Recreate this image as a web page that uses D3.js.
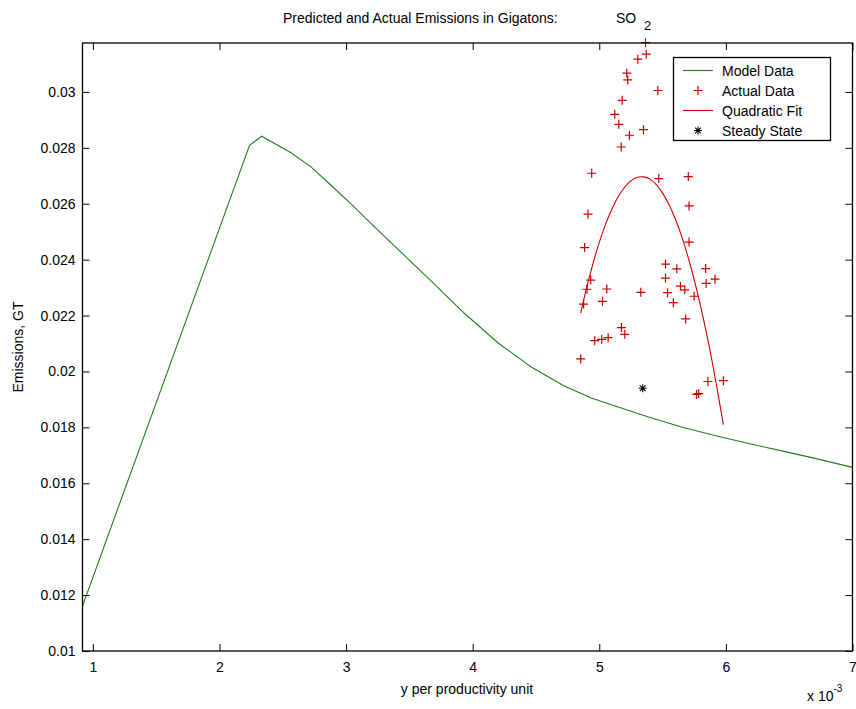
<!DOCTYPE html>
<html><head><meta charset="utf-8">
<script src="https://cdn.jsdelivr.net/npm/d3@7"></script>
<style>body{margin:0;background:#fff}svg{display:block;font-family:"Liberation Sans",Arial,sans-serif}</style>
</head><body><div id="chart"></div>
<script>
// Model data (x in units of 1e-3, emissions GT)
const modelX = [0.918, 2.2375, 2.3326, 2.562, 2.720, 2.879, 3.061, 3.235, 3.433, 3.671, 3.932, 4.201, 4.462, 4.723, 4.937, 5.119, 5.388, 5.649, 5.911, 6.180, 6.441, 6.703, 7.0];
const modelY = [0.01161, 0.02809, 0.028415, 0.02783, 0.02733, 0.02667, 0.02590, 0.02513, 0.02427, 0.02324, 0.02209, 0.02102, 0.02016, 0.01948, 0.01905, 0.01877, 0.01837, 0.01801, 0.01771, 0.01742, 0.01716, 0.01689, 0.01657];
// Actual data
const actualX = [5.365, 5.371, 5.304, 5.217, 5.225, 5.462, 5.181, 5.122, 5.154, 5.238, 5.349, 5.173, 4.940, 5.470, 5.703, 5.709, 4.911, 4.884, 5.709, 5.523, 5.612, 5.840, 4.932, 5.523, 5.844, 5.914, 4.903, 5.059, 5.328, 5.641, 5.675, 5.539, 5.749, 4.876, 5.025, 5.585, 5.682, 5.175, 5.201, 4.964, 5.019, 5.070, 4.853, 5.858, 5.980, 5.769, 5.785];
const actualY = [0.03176, 0.03135, 0.03117, 0.03067, 0.03043, 0.03005, 0.02970, 0.02920, 0.02884, 0.02845, 0.02865, 0.02803, 0.02709, 0.02690, 0.02697, 0.02592, 0.02563, 0.02443, 0.02463, 0.02384, 0.02367, 0.02368, 0.02327, 0.02334, 0.02315, 0.02330, 0.02294, 0.02295, 0.02283, 0.02305, 0.02292, 0.02282, 0.02269, 0.02241, 0.02251, 0.02246, 0.02188, 0.02157, 0.02133, 0.02110, 0.02115, 0.02121, 0.02045, 0.01964, 0.01967, 0.01918, 0.01921];
// Quadratic fit
const fitX = [4.853, 4.90, 4.95, 5.00, 5.05, 5.10, 5.15, 5.20, 5.25, 5.30, 5.35, 5.40, 5.45, 5.50, 5.55, 5.60, 5.65, 5.70, 5.75, 5.80, 5.85, 5.90, 5.98];
const fitY = [0.02209, 0.02300, 0.02386, 0.02462, 0.02527, 0.02581, 0.02626, 0.02659, 0.02682, 0.02695, 0.02696, 0.02688, 0.02668, 0.02638, 0.02597, 0.02546, 0.02484, 0.02411, 0.02328, 0.02234, 0.02130, 0.02015, 0.01810];
// Steady state
const steadyX = [5.343];
const steadyY = [0.01940];
// Ticks
const xTicks = [1, 2, 3, 4, 5, 6, 7];
const yTicks = [0.01, 0.012, 0.014, 0.016, 0.018, 0.02, 0.022, 0.024, 0.026, 0.028, 0.03];
const yTickLabels = ["0.01", "0.012", "0.014", "0.016", "0.018", "0.02", "0.022", "0.024", "0.026", "0.028", "0.03"];
const legendLabels = ["Model Data", "Actual Data", "Quadratic Fit", "Steady State"];

const W = 856, H = 709;
const L = 82.5, R = 852.5, T = 43, B = 651;
const green = "#1f7f1f", red = "#cc0000";

const svg = d3.select("#chart").append("svg").attr("width", W).attr("height", H);
const x = d3.scaleLinear().domain([0.918, 7]).range([L, R]);
const y = d3.scaleLinear().domain([0.01, 0.03175]).range([B, T]);

svg.append("clipPath").attr("id", "clip").append("rect").attr("x", L).attr("y", T - 6).attr("width", R - L).attr("height", B - T + 6);
const plot = svg.append("g").attr("clip-path", "url(#clip)");

const line = d3.line().x(d => x(d[0])).y(d => y(d[1]));
plot.append("path").datum(modelX.map((v, i) => [v, modelY[i]]))
  .attr("d", line).attr("fill", "none").attr("stroke", green).attr("stroke-width", 1.1);

plot.append("path").datum(fitX.map((v, i) => [v, fitY[i]]))
  .attr("d", d3.line().x(d => x(d[0])).y(d => y(d[1])).curve(d3.curveCatmullRom))
  .attr("fill", "none").attr("stroke", red).attr("stroke-width", 1.1);

const plus = (g, cx, cy, s, col) => {
  g.append("path").attr("d", `M${cx - s},${cy}H${cx + s}M${cx},${cy - s}V${cy + s}`)
    .attr("stroke", col).attr("stroke-width", 1.2).attr("fill", "none");
};
const star = (g, cx, cy, s, col) => {
  const d = s * 0.72;
  g.append("path").attr("d", `M${cx - s},${cy}H${cx + s}M${cx},${cy - s}V${cy + s}M${cx - d},${cy - d}L${cx + d},${cy + d}M${cx - d},${cy + d}L${cx + d},${cy - d}`)
    .attr("stroke", col).attr("stroke-width", 1.1).attr("fill", "none");
};

const pg = svg.append("g");
actualX.forEach((v, i) => plus(pg, x(v), y(actualY[i]), 4.5, red));
steadyX.forEach((v, i) => star(pg, x(v), y(steadyY[i]), 4, "#000"));

// axes (ticks inward, on all four sides)
const fmtY = d => yTickLabels[yTicks.indexOf(d)];
const axB = svg.append("g").attr("transform", `translate(0,${B})`)
  .call(d3.axisBottom(x).tickValues(xTicks).tickSize(-7).tickPadding(11).tickFormat(d3.format("d")));
const axT = svg.append("g").attr("transform", `translate(0,${T})`)
  .call(d3.axisTop(x).tickValues(xTicks).tickSize(-7).tickFormat(""));
const axL = svg.append("g").attr("transform", `translate(${L},0)`)
  .call(d3.axisLeft(y).tickValues(yTicks).tickSize(-7).tickPadding(7).tickFormat(fmtY));
const axR = svg.append("g").attr("transform", `translate(${R},0)`)
  .call(d3.axisRight(y).tickValues(yTicks).tickSize(-7).tickFormat(""));
[axB, axT, axL, axR].forEach(a => {
  a.select(".domain").remove();
  a.selectAll("line").attr("stroke", "#000");
  a.selectAll("text").attr("font-size", 14).attr("fill", "#000").attr("font-family", '"Liberation Sans",Arial,sans-serif');
});
svg.append("rect").attr("x", L).attr("y", T).attr("width", R - L).attr("height", B - T)
  .attr("fill", "none").attr("stroke", "#000").attr("stroke-width", 1.3);

// Title
svg.append("text").attr("x", 283).attr("y", 23).attr("font-size", 14).attr("fill", "#000")
  .text("Predicted and Actual Emissions in Gigatons:");
svg.append("text").attr("x", 616).attr("y", 23).attr("font-size", 14).attr("fill", "#000").text("SO");
svg.append("text").attr("x", 644).attr("y", 30).attr("font-size", 13).attr("fill", "#000").text("2");

// Axis labels
svg.append("text").attr("x", 467).attr("y", 694).attr("text-anchor", "middle").attr("font-size", 14).text("y per productivity unit");
svg.append("text").attr("transform", `translate(23,${(T + B) / 2}) rotate(-90)`).attr("text-anchor", "middle")
  .attr("font-size", 14).text("Emissions, GT");
const ex = svg.append("text").attr("x", 807).attr("y", 701).attr("font-size", 14);
ex.append("tspan").text("x 10");
ex.append("tspan").attr("dy", -9).attr("font-size", 10).text("-3");

// Legend
const lg = svg.append("g");
lg.append("rect").attr("x", 673.5).attr("y", 57.5).attr("width", 157).attr("height", 83)
  .attr("fill", "#fff").attr("stroke", "#000").attr("stroke-width", 1.3);
const rows = [70.5, 90.5, 110.5, 130.5];
legendLabels.forEach((t, i) => {
  const ry = rows[i];
  if (i === 0) lg.append("line").attr("x1", 683).attr("x2", 713).attr("y1", ry).attr("y2", ry).attr("stroke", green).attr("stroke-width", 1.1);
  if (i === 1) plus(lg, 698, ry, 4.5, red);
  if (i === 2) lg.append("line").attr("x1", 683).attr("x2", 713).attr("y1", ry).attr("y2", ry).attr("stroke", red).attr("stroke-width", 1.1);
  if (i === 3) star(lg, 698, ry, 4, "#000");
  lg.append("text").attr("x", 722).attr("y", ry + 5).attr("font-size", 14).attr("fill", "#000").text(t);
});
</script></body></html>
